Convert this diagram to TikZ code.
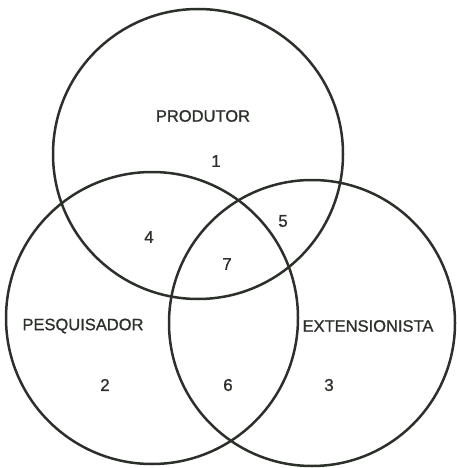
\documentclass[tikz,border=0pt]{standalone}
\usepackage{fontspec}
\setmainfont{Liberation Sans}[FakeBold=0.9]
\definecolor{ink}{RGB}{44,48,42}
\begin{document}
\begin{tikzpicture}[x=1pt,y=-1pt,
  ring/.style={draw=ink,line width=2.5pt,circle,inner sep=0pt,minimum size=#1},
  lbl/.style={text=ink,font=\fontsize{16.5}{19}\selectfont,inner sep=0pt},
  num/.style={text=ink,font=\fontsize{17}{19}\selectfont,inner sep=0pt}]
\fill[white] (0,0) rectangle (457,468);
\useasboundingbox (0,0) rectangle (457,468);
\node[ring=290pt] (prod) at (198,154) {};
\node[ring=292pt] (pesq) at (152,318) {};
\node[ring=286pt] (ext) at (312,323) {};
\node[lbl] (tprod) at (203,116) {PRODUTOR};
\node[lbl] (tpesq) at (83,326) {PESQUISADOR};
\node[lbl] (text) at (368,326) {EXTENSIONISTA};
\node[num] (n1) at (216,161) {1};
\node[num] (n2) at (105,385) {2};
\node[num] (n3) at (329,385) {3};
\node[num] (n4) at (149,237) {4};
\node[num] (n5) at (283,221) {5};
\node[num] (n6) at (228,385) {6};
\node[num] (n7) at (227,264) {7};
\end{tikzpicture}
\end{document}
